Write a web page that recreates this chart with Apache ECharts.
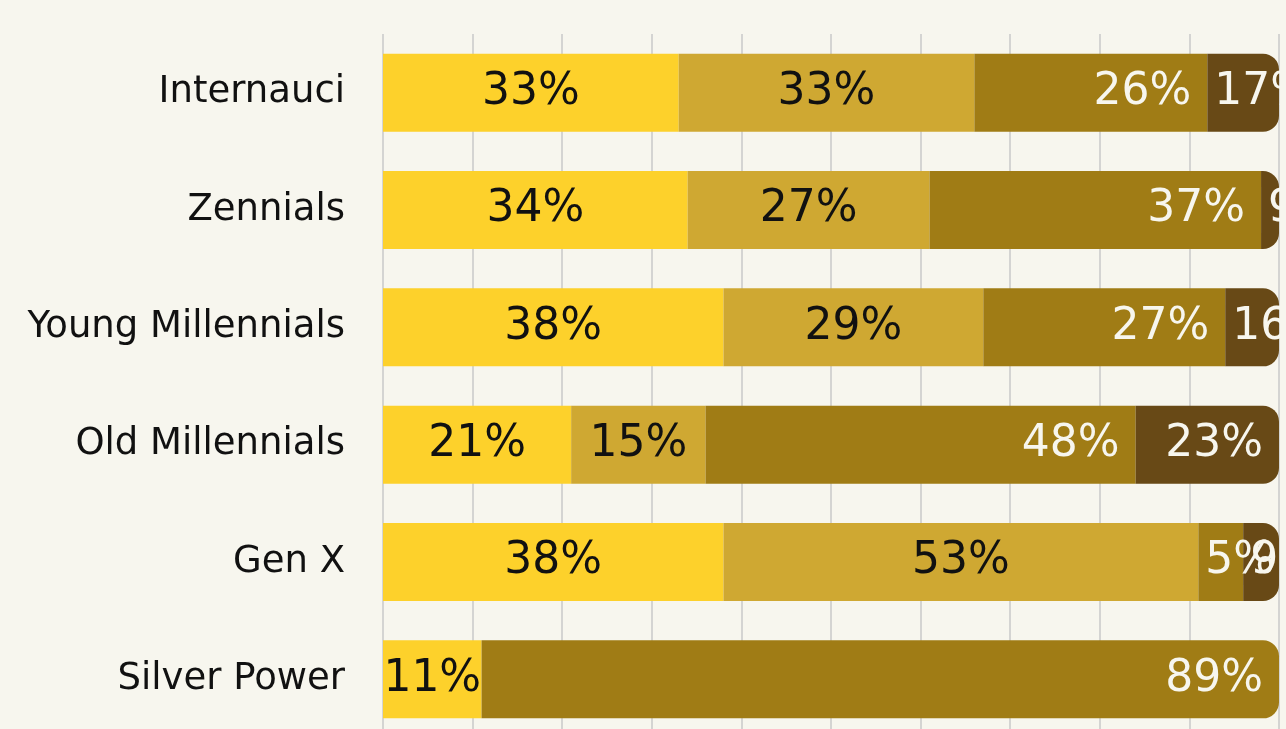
<!DOCTYPE html>
<html>
<head>
<meta charset="utf-8">
<script src="https://cdn.jsdelivr.net/npm/echarts@6/dist/echarts.min.js"></script>
<style>
html,body{margin:0;padding:0;background:#f7f6ee;overflow:hidden;}
#chart{width:1286px;height:738px;}
</style>
</head>
<body>
<div id="chart"></div>
<script>
const categories = ['Internauci', 'Zennials', 'Young Millennials', 'Old Millennials', 'Gen X', 'Silver Power'];
const seriesA = [33, 34, 38, 21, 38, 11];
const seriesB = [33, 27, 29, 15, 53, 0];
const seriesC = [26, 37, 27, 48, 5, 89];
const seriesD = [17, 9, 16, 23, 9, 0];
const seriesNames = ['A', 'B', 'C', 'D'];

const COLORS = ['#fdd12b', '#cfa832', '#a07c15', '#684916'];
const LABEL_COLORS = ['#111111', '#111111', '#f7f6ee', '#f7f6ee'];
const FONT = '"DejaVu Sans", sans-serif';
const LABEL_SIZE = 44;
const AXIS_MAX = 100;
const GRID_LEFT = 383, GRID_WIDTH = 896;
const PX_PER_UNIT = GRID_WIDTH / AXIS_MAX;

const ctx = document.createElement('canvas').getContext('2d');
ctx.font = LABEL_SIZE + 'px ' + FONT;
function textW(s) { return ctx.measureText(s).width; }

const raw = [seriesA, seriesB, seriesC, seriesD];
const built = raw.map(() => []);
categories.forEach((c, i) => {
  let lastK = -1;
  let cc = 0;
  for (let k = 0; k < raw.length; k++) {
    const v = raw[k][i];
    const vis = Math.max(0, Math.min(v, AXIS_MAX - cc));
    if (vis > 0) lastK = k;
    cc += v;
  }
  let cum = 0;
  for (let k = 0; k < raw.length; k++) {
    const v = raw[k][i];
    const vis = Math.max(0, Math.min(v, AXIS_MAX - cum));
    cum += v;
    const item = { value: vis, rawValue: v };
    item.itemStyle = { borderRadius: k === lastK ? [0, 16, 16, 0] : 0 };
    const lbl = { show: v > 0 };
    if (k >= 2) {
      const segW = vis * PX_PER_UNIT;
      if (segW - textW(v + '%') < 23) {
        lbl.position = 'insideLeft'; lbl.distance = 7;
      } else {
        lbl.position = 'insideRight'; lbl.distance = 16;
      }
    } else {
      lbl.position = 'inside';
    }
    item.label = lbl;
    built[k].push(item);
  }
});

const chart = echarts.init(document.getElementById('chart'), null, { renderer: 'canvas' });
chart.setOption({
  backgroundColor: '#f7f6ee',
  animation: false,
  grid: { left: GRID_LEFT, top: 34, width: GRID_WIDTH, height: 704 },
  xAxis: {
    type: 'value', min: 0, max: AXIS_MAX, interval: 10,
    axisLabel: { show: false }, axisLine: { show: false }, axisTick: { show: false },
    splitLine: { show: true, lineStyle: { color: '#c8c8c8', width: 1.5 } }
  },
  yAxis: {
    type: 'category', data: categories, inverse: true,
    axisLine: { show: false }, axisTick: { show: false },
    axisLabel: { color: '#111111', fontSize: 37, fontFamily: FONT, margin: 38 }
  },
  series: built.map((d, k) => ({
    name: seriesNames[k],
    type: 'bar',
    stack: 'total',
    barWidth: 78,
    data: d,
    itemStyle: { color: COLORS[k] },
    label: {
      color: LABEL_COLORS[k],
      fontSize: LABEL_SIZE,
      fontFamily: FONT,
      formatter: p => p.data.rawValue + '%'
    }
  }))
});
</script>
</body>
</html>
